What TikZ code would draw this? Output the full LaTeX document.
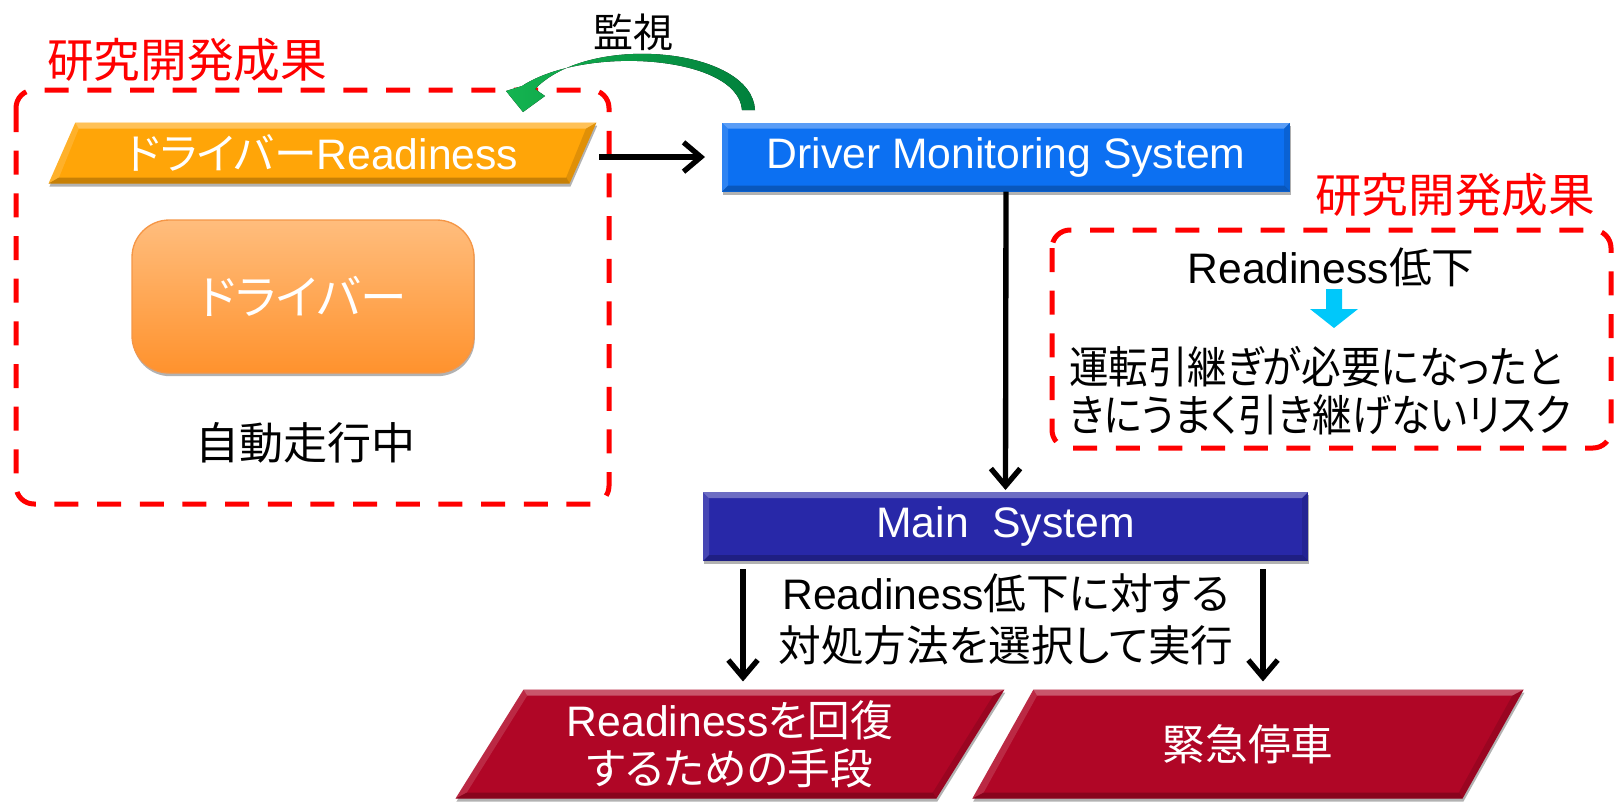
\documentclass[tikz,border=0pt]{standalone}
\usepackage{fontspec}
\setmainfont{Liberation Sans}
\newfontfamily\jp[RawFeature=+palt]{Noto Sans CJK JP}
\newfontfamily\jpn[RawFeature=+palt,FakeStretch=0.9]{Noto Sans CJK JP}
\usetikzlibrary{arrows.meta,shapes.geometric,shadows,calc}
\definecolor{dmsblue}{RGB}{12,112,242}
\definecolor{msblue}{RGB}{40,40,168}
\definecolor{pred}{RGB}{176,6,38}
\definecolor{porange}{RGB}{255,165,8}
\definecolor{dtop}{RGB}{255,189,125}
\definecolor{dbot}{RGB}{255,146,45}
\definecolor{dborder}{RGB}{245,150,70}
\definecolor{gL}{RGB}{20,180,80}
\definecolor{gR}{RGB}{0,128,60}
\definecolor{cyanA}{RGB}{0,200,250}
\definecolor{rline}{RGB}{255,0,0}
% bevel: corners TL TR BR BL, inner offsets a, c, b
\newcommand\bevelfx[7]{%
  \coordinate (bvA) at ($(#1)+(#5,#7)$);
  \coordinate (bvB) at ($(#2)+(-#6,#7)$);
  \coordinate (bvC) at ($(#3)+(-#5,-#7)$);
  \coordinate (bvD) at ($(#4)+(#6,-#7)$);
  \fill[white,opacity=.32] (#1) -- (#2) -- (bvB) -- (bvA) -- cycle;
  \fill[white,opacity=.14] (#1) -- (bvA) -- (bvD) -- (#4) -- cycle;
  \fill[black,opacity=.22] (#4) -- (#3) -- (bvC) -- (bvD) -- cycle;
  \fill[black,opacity=.12] (#2) -- (bvB) -- (bvC) -- (#3) -- cycle;
}
\begin{document}
\begin{tikzpicture}[x=0.75pt,y=-0.75pt,
  every node/.style={inner sep=0pt,outer sep=0pt},
  boxshadow/.style={drop shadow={shadow xshift=0.6pt,shadow yshift=-2.4pt,opacity=0.3,fill=black}},
  bluebox/.style={rectangle,text=white,minimum height=51.75pt,boxshadow,
    fill=#1,font=\fontsize{32pt}{38pt}\selectfont},
  para/.style={trapezium,trapezium left angle=#1,trapezium right angle=180-#1,
    trapezium stretches=true,text=white,boxshadow},
  resbox/.style={draw=rline,line width=3.75pt,dash pattern=on 18pt off 14pt,rounded corners=13.5pt},
  restitle/.style={text=rline,font=\jp\fontsize{35pt}{40pt}\selectfont},
  bodytext/.style={font=\fontsize{32pt}{39pt}\selectfont,align=center},
  arr/.style={line width=4pt,-{Straight Barb[length=13pt,width=22pt]}},
]
\useasboundingbox (0,0) rectangle (1614,801);

% ---- left research box ----
\draw[resbox] (16,90) rectangle (609,504);
\node[restitle] (t1) at (187,60) {研究開発成果};

\node[para=60,fill=porange,
  minimum width=411.75pt,minimum height=45.75pt,
  font=\fontsize{32pt}{38pt}\selectfont] (odr) at (322.5,153) {{\jp ドライバー}Readiness};
\bevelfx{odr.top left corner}{odr.top right corner}{odr.bottom right corner}{odr.bottom left corner}{3.5}{10.4}{6}

\node[rectangle,rounded corners=28pt,top color=dtop,bottom color=dbot,draw=dborder,
  line width=1pt,minimum width=256.5pt,minimum height=114.75pt,boxshadow,
  text=white,font=\jp\fontsize{35pt}{40pt}\selectfont] (drv) at (303,296.5) {ドライバー};

\node[font=\jp\fontsize{33pt}{40pt}\selectfont] (auto) at (305,443) {自動走行中};

% ---- DMS and monitoring ----
\node[bluebox=dmsblue,minimum width=426pt] (dms) at (1006,157) {Driver Monitoring System};
\bevelfx{dms.north west}{dms.north east}{dms.south east}{dms.south west}{6}{6}{6}

\node[font=\jp\fontsize{30pt}{36pt}\selectfont] (mon) at (633,32) {監視};
\fill[left color=gL,right color=gR]
  (755,110) .. controls (752,48) and (590,32) .. (535,89)
  -- (545,96) -- (523,112) -- (506,91) -- (522,86)
  .. controls (585,45) and (738,55) .. (742,110) -- cycle;

\draw[arr,shorten <=12pt,shorten >=12.75pt] (odr.east |- dms.west) -- (dms.west);

% ---- right research box ----
\node[restitle] (t2) at (1455,195) {研究開発成果};
\draw[resbox] (1052,230) rectangle (1611,448);
\node[font=\fontsize{32pt}{38pt}\selectfont] (rl) at (1331,267) {Readiness{\jp 低下}};
\fill[cyanA] (1326,289) -- (1342,289) -- (1342,309) -- (1358,309) -- (1334,328)
  -- (1310,309) -- (1326,309) -- cycle;
\node[font=\jpn\fontsize{33pt}{36pt}\selectfont,align=left,anchor=west] (risk) at (1069,391)
  {運転引継ぎが必要になったと\\きにうまく引き継げないリスク};

% ---- main system ----
\node[bluebox=msblue,minimum width=453.75pt] (ms) at (1005.5,526.5) {Main\ \ System};
\bevelfx{ms.north west}{ms.north east}{ms.south east}{ms.south west}{6}{6}{6}
\draw[arr,shorten >=1.5pt] (dms.south) -- (ms.north);

\node[bodytext] (sel) at (1006,619)
  {Readiness{\jp 低下に対する}\\{\jp 対処方法を選択して実行}};

% ---- outcomes ----
\node[para=58.4,fill=pred,
  minimum width=412.5pt,minimum height=81.75pt,
  font=\fontsize{32pt}{36pt}\selectfont,align=center] (p1) at (730,744)
  {Readiness{\jp を回復}\\{\jp するための手段}};
\bevelfx{p1.top left corner}{p1.top right corner}{p1.bottom right corner}{p1.bottom left corner}{3.7}{11.3}{6}
\node[para=58.4,fill=pred,
  minimum width=414pt,minimum height=81.75pt,
  font=\jp\fontsize{32pt}{36pt}\selectfont] (p2) at (1248,744) {緊急停車};
\bevelfx{p2.top left corner}{p2.top right corner}{p2.bottom right corner}{p2.bottom left corner}{3.7}{11.3}{6}

\draw[arr,shorten <=6pt,shorten >=6pt] ($(ms.south west)+(40,0)$) coordinate (a1) -- (a1 |- p1.north);
\draw[arr,shorten <=6pt,shorten >=6pt] ($(ms.south east)+(-45,0)$) coordinate (a2) -- (a2 |- p2.north);
\end{tikzpicture}
\end{document}
